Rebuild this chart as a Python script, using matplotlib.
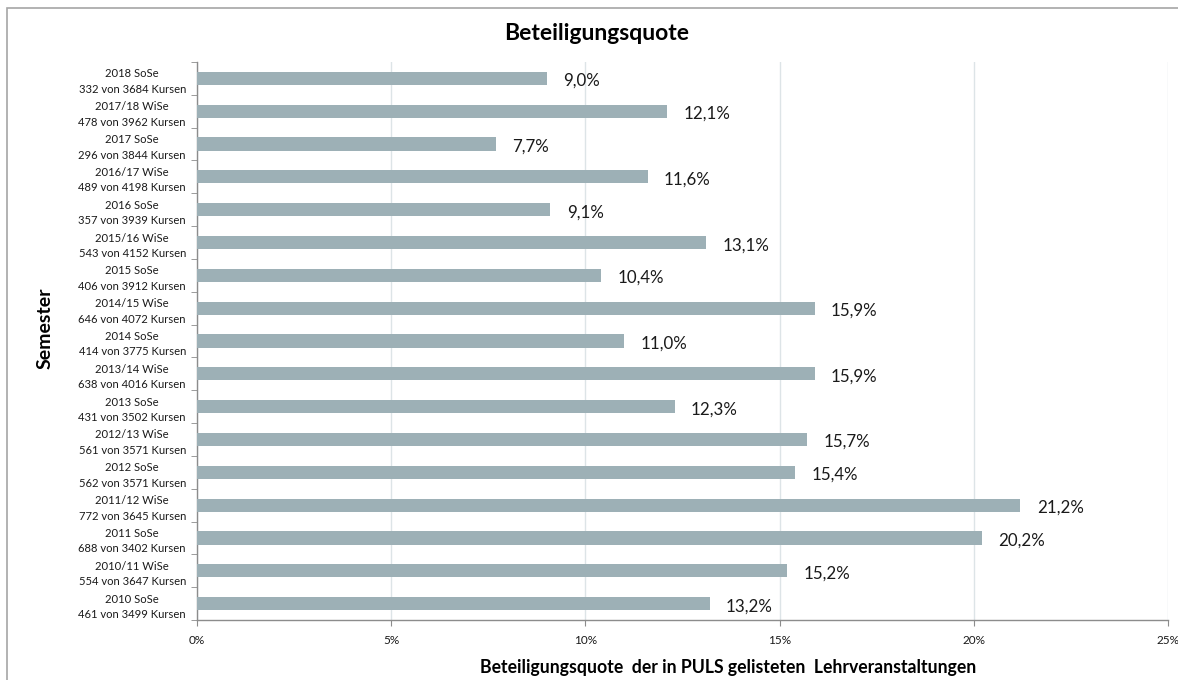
import matplotlib
matplotlib.use("Agg")
import matplotlib.pyplot as plt
from matplotlib.patches import Rectangle
from matplotlib.ticker import FixedLocator, FuncFormatter
import numpy as np

# Top-to-bottom order as shown in the chart
semesters = [
    "2018 SoSe", "2017/18 WiSe", "2017 SoSe", "2016/17 WiSe", "2016 SoSe",
    "2015/16 WiSe", "2015 SoSe", "2014/15 WiSe", "2014 SoSe", "2013/14 WiSe",
    "2013 SoSe", "2012/13 WiSe", "2012 SoSe", "2011/12 WiSe", "2011 SoSe",
    "2010/11 WiSe", "2010 SoSe",
]
participating = [332, 478, 296, 489, 357, 543, 406, 646, 414, 638, 431, 561, 562, 772, 688, 554, 461]
total_courses = [3684, 3962, 3844, 4198, 3939, 4152, 3912, 4072, 3775, 4016, 3502, 3571, 3571, 3645, 3402, 3647, 3499]
quota_pct = [9.0, 12.1, 7.7, 11.6, 9.1, 13.1, 10.4, 15.9, 11.0, 15.9, 12.3, 15.7, 15.4, 21.2, 20.2, 15.2, 13.2]

BAR_COLOR = "#9DB0B6"
GRID_COLOR = "#DDE4E7"
AXIS_COLOR = "#8C8C8C"
TEXT_COLOR = "#1A1A1A"

plt.rcParams["font.family"] = ["Lato", "DejaVu Sans"]

W, H = 1178, 680
fig = plt.figure(figsize=(W / 100, H / 100), dpi=100)
ax = fig.add_axes([197 / W, 1 - 620 / H, (1168 - 197) / W, (620 - 62) / H])

# outer chart frame
fig.patches.append(Rectangle((7 / W, -0.1), 1.2, (H - 8) / H + 0.1,
                             transform=fig.transFigure, fill=False,
                             edgecolor="#A6A6A6", linewidth=1.2))

n = len(semesters)
y = np.arange(n)
ax.barh(y, quota_pct, height=0.4, color=BAR_COLOR, zorder=3)

for yi, v in zip(y, quota_pct):
    ax.text(v + 0.42, yi + 0.08, f"{v:.1f}%".replace(".", ","), va="center", ha="left",
            fontsize=12.2, color=TEXT_COLOR)

labels = [f"{s}\n{p} von {t} Kursen" for s, p, t in zip(semesters, participating, total_courses)]
ax.set_ylim(n - 0.5, -0.5)
ax.set_yticks(y)
ax.set_yticklabels(labels, fontsize=8.1, color=TEXT_COLOR, multialignment="center",
                   linespacing=1.5)
ax.yaxis.set_minor_locator(FixedLocator(np.arange(-0.5, n, 1.0)))
ax.tick_params(axis="y", which="major", length=0, pad=8)
ax.tick_params(axis="y", which="minor", length=4, color=AXIS_COLOR, direction="out")

ax.set_xlim(0, 25)
ax.set_xticks(np.arange(0, 26, 5))
ax.xaxis.set_major_formatter(FuncFormatter(lambda v, _: f"{v:.0f}%"))
ax.tick_params(axis="x", length=4, color=AXIS_COLOR, labelsize=8.5, labelcolor=TEXT_COLOR, pad=7)
ax.grid(axis="x", color=GRID_COLOR, linewidth=1, zorder=0)

for side in ("top", "right"):
    ax.spines[side].set_visible(False)
for side in ("left", "bottom"):
    ax.spines[side].set_color(AXIS_COLOR)
    ax.spines[side].set_linewidth(1)

fig.text(597 / W, 1 - 33 / H, "Beteiligungsquote", ha="center", va="center",
         fontsize=16.5, fontweight="bold", color="black")
fig.text(728 / W, 1 - 668 / H, "Beteiligungsquote  der in PULS gelisteten  Lehrveranstaltungen",
         ha="center", va="center", fontsize=12.7, fontweight="bold", color="black")
fig.text(45 / W, 1 - 328 / H, "Semester", ha="center", va="center", rotation=90,
         fontsize=14, fontweight="bold", color="black")

fig.savefig("out.png", dpi=100)
